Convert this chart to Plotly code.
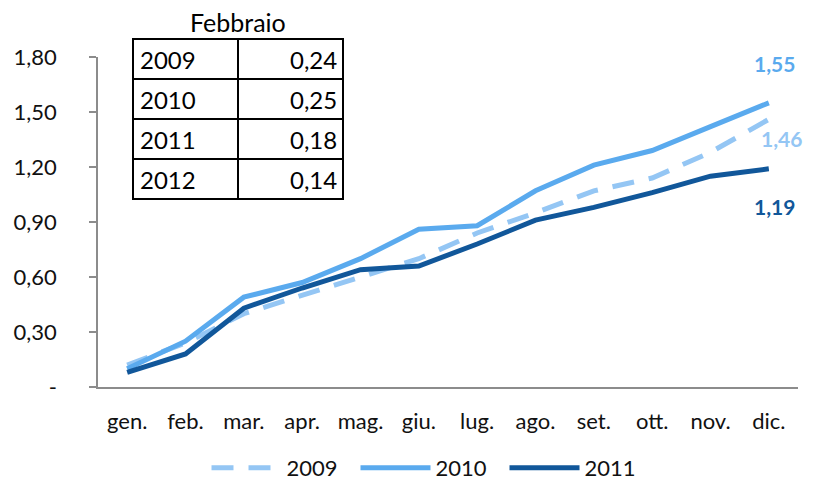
import plotly.graph_objects as go

months = ['gen.', 'feb.', 'mar.', 'apr.', 'mag.', 'giu.', 'lug.', 'ago.', 'set.', 'ott.', 'nov.', 'dic.']
v2009 = [0.12, 0.24, 0.40, 0.50, 0.60, 0.70, 0.84, 0.95, 1.07, 1.14, 1.28, 1.46]
v2010 = [0.10, 0.25, 0.49, 0.57, 0.70, 0.86, 0.88, 1.07, 1.21, 1.29, 1.42, 1.55]
v2011 = [0.08, 0.18, 0.43, 0.54, 0.64, 0.66, 0.78, 0.91, 0.98, 1.06, 1.15, 1.19]

y_ticks = [0, 0.30, 0.60, 0.90, 1.20, 1.50, 1.80]

table_title = 'Febbraio'
table_years = ['2009', '2010', '2011', '2012']
table_vals = ['0,24', '0,25', '0,18', '0,14']

C2009 = '#94c6f4'
C2010 = '#5aaaee'
C2011 = '#11579a'
FONT = 'Lato'

# page body has an 8px margin; work in screen pixels and convert
OFF = 8
W, H = 819 - OFF, 482 - OFF
PL, PR, PT, PB = 98, 798, 57, 387          # plot area in screen pixels
L, R, T, B = PL - OFF, W - (PR - OFF), PT - OFF, H - (PB - OFF)
PW, PH = W - L - R, H - T - B


def px(x):
    return (x - PL) / PW


def py(y):
    return (PB - y) / PH


def fmt(v):
    return '-' if v == 0 else f'{v:.2f}'.replace('.', ',')


fig = go.Figure()
fig.add_trace(go.Scatter(x=months, y=v2009, name='2009', mode='lines',
                         line=dict(color=C2009, width=5, dash='22px,15px')))
fig.add_trace(go.Scatter(x=months, y=v2010, name='2010', mode='lines',
                         line=dict(color=C2010, width=5)))
fig.add_trace(go.Scatter(x=months, y=v2011, name='2011', mode='lines',
                         line=dict(color=C2011, width=5)))

# end labels
for vals, col, dx, dy in [(v2010, C2010, 6, 39), (v2009, C2009, 13, -19), (v2011, C2011, 6, -38)]:
    fig.add_annotation(x=months[-1], y=vals[-1], text=f'<b>{fmt(vals[-1])}</b>',
                       showarrow=False, xshift=dx, yshift=dy,
                       font=dict(family=FONT, size=21, color=col))

# table
shapes = []
x0, xm, x1 = 133, 238, 343
rows = [39, 79, 119, 159, 199]
shapes.append(dict(type='rect', xref='paper', yref='paper', x0=px(x0), x1=px(x1),
                   y0=py(rows[-1]), y1=py(rows[0]), line=dict(color='black', width=2)))
shapes.append(dict(type='line', xref='paper', yref='paper', x0=px(xm), x1=px(xm),
                   y0=py(rows[-1]), y1=py(rows[0]), line=dict(color='black', width=2)))
for r in rows[1:-1]:
    shapes.append(dict(type='line', xref='paper', yref='paper', x0=px(x0), x1=px(x1),
                       y0=py(r), y1=py(r), line=dict(color='black', width=2)))

fig.add_annotation(xref='paper', yref='paper', x=px(238), y=py(22), text=table_title,
                   xanchor='center', yanchor='middle',
                   showarrow=False, font=dict(family=FONT, size=25, color='black'))
for i, (yr, v) in enumerate(zip(table_years, table_vals)):
    yc = (rows[i] + rows[i + 1]) / 2
    fig.add_annotation(xref='paper', yref='paper', x=px(x0 + 5), y=py(yc), text=yr,
                       xanchor='left', yanchor='middle', showarrow=False,
                       font=dict(family=FONT, size=24, color='black'))
    fig.add_annotation(xref='paper', yref='paper', x=px(x1 - 4), y=py(yc), text=v,
                       xanchor='right', yanchor='middle', showarrow=False,
                       font=dict(family=FONT, size=24, color='black'))

fig.update_layout(
    width=W, height=H,
    margin=dict(l=L, r=R, t=T, b=B, autoexpand=False),
    paper_bgcolor='white', plot_bgcolor='white',
    font=dict(family=FONT, size=22, color='#111111'),
    shapes=shapes,
    showlegend=True,
    legend=dict(orientation='h', x=px(430), xanchor='center', y=py(468), yanchor='middle',
                font=dict(family=FONT, size=22, color='#111111'), itemwidth=70,
                entrywidth=64, entrywidthmode='pixels',
                bgcolor='rgba(0,0,0,0)'),
)
fig.update_xaxes(range=[-0.5, 11.5], showline=True, linecolor='#8c8c8c', linewidth=1.5,
                 ticks='', showgrid=False, zeroline=False, tickfont=dict(size=22),
                 ticklabelstandoff=14)
fig.update_yaxes(range=[0, 1.8], showline=True, linecolor='#8c8c8c', linewidth=1.5,
                 ticks='outside', ticklen=7, tickcolor='#8c8c8c', tickwidth=1.5,
                 tickvals=y_ticks, ticktext=[fmt(v) for v in y_ticks],
                 showgrid=False, zeroline=False, ticklabelstandoff=28, tickfont=dict(size=22))

fig.write_html('out.html')
